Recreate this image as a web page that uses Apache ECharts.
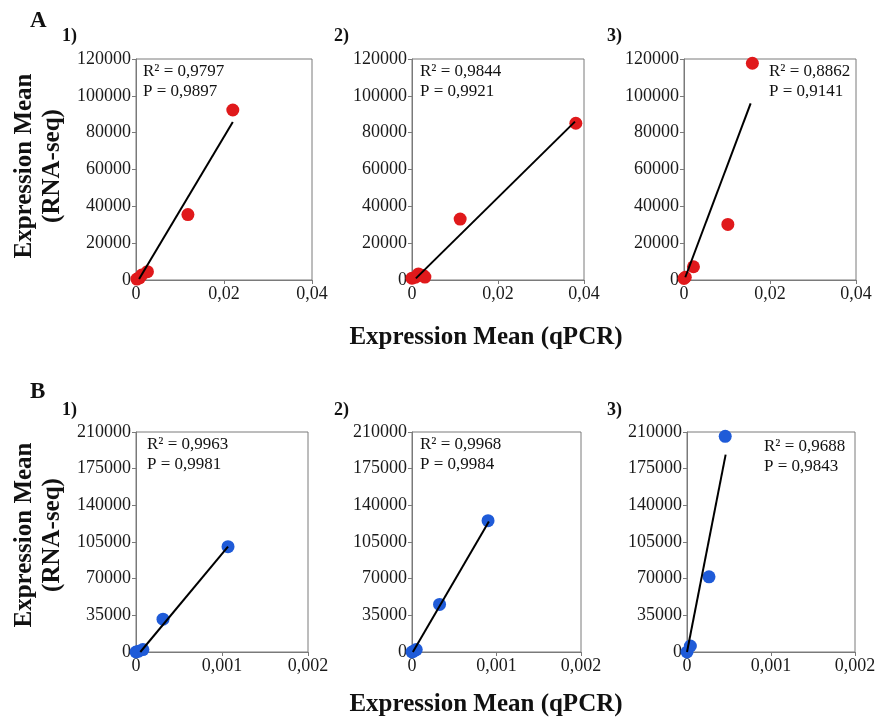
<!DOCTYPE html>
<html>
<head>
<meta charset="utf-8">
<script src="https://cdn.jsdelivr.net/npm/echarts@6/dist/echarts.min.js"></script>
<style>html,body{margin:0;padding:0;background:#fff}#c{width:880px;height:718px}</style>
</head>
<body>
<div id="c"></div>
<script>
// ---- data ----
const xTicksA = [0, 0.02, 0.04];
const yTicksA = [0, 20000, 40000, 60000, 80000, 100000, 120000];
const xTicksB = [0, 0.001, 0.002];
const yTicksB = [0, 35000, 70000, 105000, 140000, 175000, 210000];

const xA1 = [0.0002, 0.0008, 0.0013, 0.0026, 0.0118, 0.0220];
const yA1 = [500, 1200, 2700, 4500, 35500, 92300];
const fitXA1 = [0.0007, 0.0220];
const fitYA1 = [500, 85800];

const xA2 = [0.0000, 0.0008, 0.0015, 0.0026, 0.0030, 0.0112, 0.0381];
const yA2 = [1000, 1500, 3300, 2500, 1600, 33100, 85100];
const fitXA2 = [0.0009, 0.0379];
const fitYA2 = [900, 86000];

const xA3 = [0.0000, 0.0003, 0.0022, 0.0102, 0.0159];
const yA3 = [800, 1500, 7200, 30200, 117700];
const fitXA3 = [0.0003, 0.0155];
const fitYA3 = [1500, 95900];

const xB1 = [0.00000, 0.00003, 0.00008, 0.000314, 0.00107];
const yB1 = [0, 700, 2300, 31300, 100500];
const fitXB1 = [0.00005, 0.00107];
const fitYB1 = [0, 100500];

const xB2 = [0.00000, 0.00002, 0.00005, 0.000326, 0.00090];
const yB2 = [0, 800, 2300, 45400, 125400];
const fitXB2 = [0.00001, 0.00091];
const fitYB2 = [0, 124500];

const xB3 = [0.00000, 0.00004, 0.000262, 0.000455];
const yB3 = [0, 5700, 71800, 205900];
const fitXB3 = [0.00000, 0.00046];
const fitYB3 = [0, 188400];

const panelLabels = ['1)', '2)', '3)'];
const statsA = [['R² = 0,9797', 'P = 0,9897'], ['R² = 0,9844', 'P = 0,9921'], ['R² = 0,8862', 'P = 0,9141']];
const statsB = [['R² = 0,9963', 'P = 0,9981'], ['R² = 0,9968', 'P = 0,9984'], ['R² = 0,9688', 'P = 0,9843']];
const yTitle = ['Expression Mean', '(RNA-seq)'];
const xTitle = 'Expression Mean (qPCR)';

// ---- layout ----
const SERIF = '"Liberation Serif", "DejaVu Serif", serif';
const RED = '#e0191b';
const BLUE = '#1f5bd8';
const grids = [
  {left: 136, top: 59, width: 176, height: 221},
  {left: 412, top: 59, width: 172, height: 221},
  {left: 684, top: 59, width: 172, height: 221},
  {left: 136, top: 432, width: 172, height: 220},
  {left: 412, top: 432, width: 169, height: 220},
  {left: 687, top: 432, width: 168, height: 220}
];

const pts = [[xA1, yA1], [xA2, yA2], [xA3, yA3], [xB1, yB1], [xB2, yB2], [xB3, yB3]];
const fits = [[fitXA1, fitYA1], [fitXA2, fitYA2], [fitXA3, fitYA3], [fitXB1, fitYB1], [fitXB2, fitYB2], [fitXB3, fitYB3]];

function zip(xs, ys) { return xs.map((x, i) => [x, ys[i]]); }
function fmtX(v) { if (v === 0) return '0'; return String(+v.toFixed(4)).replace('.', ','); }
function fmtY(v) { return String(Math.round(v)); }

const xAxis = [], yAxis = [], series = [];
grids.forEach((g, i) => {
  const isA = i < 3;
  const xt = isA ? xTicksA : xTicksB;
  const yt = isA ? yTicksA : yTicksB;
  xAxis.push({
    gridIndex: i, type: 'value', min: xt[0], max: xt[xt.length - 1], interval: xt[1] - xt[0],
    axisLine: {show: true, onZero: false, lineStyle: {color: '#7a7a7a', width: 1}},
    axisTick: {show: true, length: 4, lineStyle: {color: '#7a7a7a'}},
    splitLine: {show: false},
    axisLabel: {color: '#1a1a1a', fontFamily: SERIF, fontSize: 18, margin: 5, formatter: fmtX}
  });
  yAxis.push({
    gridIndex: i, type: 'value', min: yt[0], max: yt[yt.length - 1], interval: yt[1] - yt[0],
    axisLine: {show: true, onZero: false, lineStyle: {color: '#7a7a7a', width: 1}},
    axisTick: {show: true, length: 4, lineStyle: {color: '#7a7a7a'}},
    splitLine: {show: false},
    axisLabel: {color: '#1a1a1a', fontFamily: SERIF, fontSize: 18, margin: 5, formatter: fmtY}
  });
  series.push({
    type: 'scatter', xAxisIndex: i, yAxisIndex: i, symbolSize: 13,
    itemStyle: {color: isA ? RED : BLUE, opacity: 1}, data: zip(pts[i][0], pts[i][1]), z: 2
  });
  series.push({
    type: 'line', xAxisIndex: i, yAxisIndex: i, symbol: 'none', silent: true,
    lineStyle: {color: '#000', width: 2}, data: zip(fits[i][0], fits[i][1]), z: 3
  });
});

const graphic = [];
function txt(text, x, y, size, bold, align, rot) {
  const el = {type: 'text', x: x, y: y, silent: true,
    style: {text: text, font: (bold ? 'bold ' : '') + size + 'px ' + SERIF, fill: '#111',
      textAlign: align || 'left', textVerticalAlign: 'middle'}};
  if (rot) el.rotation = rot;
  graphic.push(el);
}
// section letters
txt('A', 30, 21, 23, true);
txt('B', 30, 392, 23, true);
// panel numbers
const numX = [62, 334, 607];
numX.forEach((x, k) => { txt(panelLabels[k], x, 36, 18, true); txt(panelLabels[k], x, 410, 18, true); });
// stats
const statA = [[143, 72], [420, 72], [769, 72]];
const statB = [[147, 445], [420, 445], [764, 447]];
statsA.forEach((s, k) => { txt(s[0], statA[k][0], statA[k][1], 17, false); txt(s[1], statA[k][0], statA[k][1] + 20, 17, false); });
statsB.forEach((s, k) => { txt(s[0], statB[k][0], statB[k][1], 17, false); txt(s[1], statB[k][0], statB[k][1] + 20, 17, false); });
// y titles
[166, 535].forEach(cy => {
  txt(yTitle[0], 25, cy, 25, true, 'center', Math.PI / 2);
  txt(yTitle[1], 53, cy, 25, true, 'center', Math.PI / 2);
});
// x titles
txt(xTitle, 486, 338, 25, true, 'center');
txt(xTitle, 486, 705, 25, true, 'center');

const chart = echarts.init(document.getElementById('c'), null, {renderer: 'canvas'});
chart.setOption({
  animation: false,
  backgroundColor: '#fff',
  grid: grids.map(g => Object.assign({show: true, borderColor: '#7a7a7a', borderWidth: 1, containLabel: false}, g)),
  xAxis: xAxis, yAxis: yAxis, series: series, graphic: graphic
});
</script>
</body>
</html>
